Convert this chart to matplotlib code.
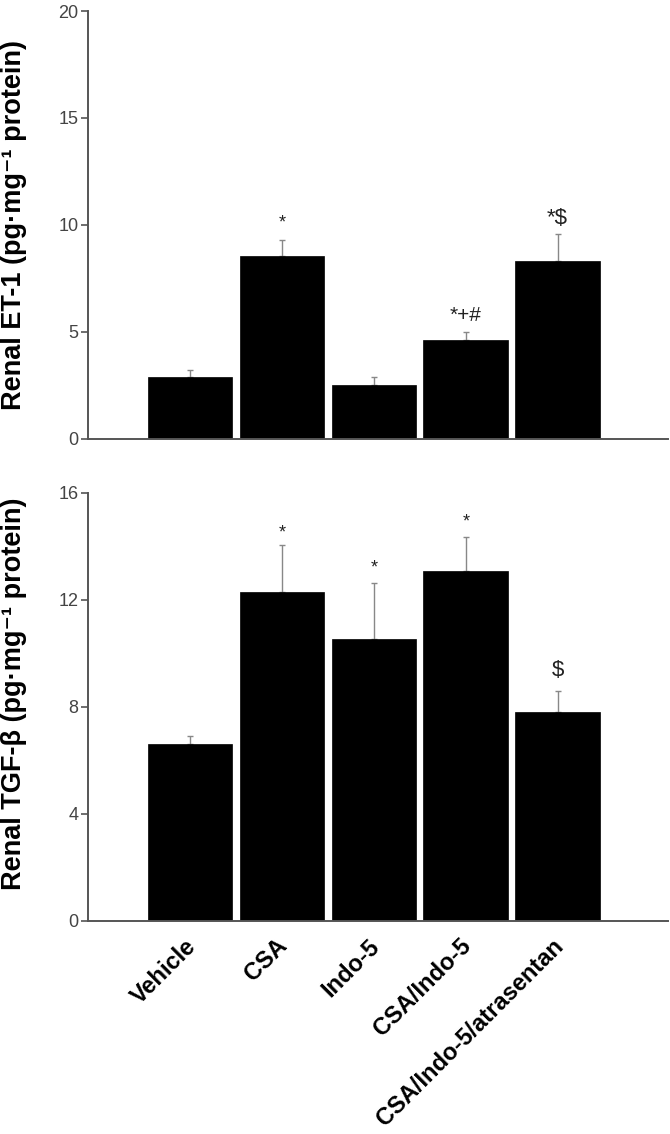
import matplotlib
matplotlib.use("Agg")
import matplotlib.pyplot as plt
import matplotlib.transforms as mtransforms
import numpy as np

groups = ["Vehicle", "CSA", "Indo-5", "CSA/Indo-5", "CSA/Indo-5/atrasentan"]
et1_mean = [2.88, 8.54, 2.52, 4.63, 8.31]
et1_err = [0.31, 0.76, 0.36, 0.33, 1.25]
et1_marks = ["", "*", "", "*+#", "*$"]
et1_mark_y = [0, 10.1, 0, 5.75, 10.3]

tgf_mean = [6.60, 12.29, 10.54, 13.07, 7.80]
tgf_err = [0.32, 1.77, 2.08, 1.29, 0.80]
tgf_marks = ["", "*", "*", "*", "$"]
tgf_mark_y = [0, 14.5, 13.2, 14.9, 9.37]

FAM = ["Liberation Sans", "DejaVu Sans"]
plt.rcParams['font.family'] = FAM

W, H = 670, 1134
fig = plt.figure(figsize=(W / 100, H / 100), dpi=100)

left = 88 / W
width = (668 - 88) / W
ax1 = fig.add_axes([left, 1 - 438.5 / H, width, (438.5 - 11) / H])
ax2 = fig.add_axes([left, 1 - 920.7 / H, width, (920.7 - 492.7) / H])

x = np.arange(len(groups))
spine_c = "#555555"
tick_c = "#444444"

def style(ax, ymax, yticks, ylabel, ycenter):
    ax.set_xlim(-1.11, 5.2)
    ax.set_ylim(0, ymax)
    ax.set_yticks(yticks)
    for s in ["top", "right"]:
        ax.spines[s].set_visible(False)
    for s in ["left", "bottom"]:
        ax.spines[s].set_color(spine_c)
        ax.spines[s].set_linewidth(1.4)
    ax.tick_params(axis="y", direction="out", length=5, width=1.2, color=spine_c,
                   labelsize=13, labelcolor=tick_c, pad=2)
    ax.set_ylabel(ylabel, fontsize=19.5, fontweight="bold", family=FAM)
    ax.yaxis.set_label_coords(-0.105, ycenter)

def draw(ax, mean, err, marks, mark_y, sizes):
    ax.bar(x, mean, width=0.92, color="black", edgecolor="black", linewidth=0.5, zorder=2)
    ax.errorbar(x, mean, yerr=[np.zeros(len(err)), err], fmt="none", ecolor="#888888",
                elinewidth=1.0, capsize=2.5, capthick=1.0, zorder=1)
    for xi, m, my, sz in zip(x, marks, mark_y, sizes):
        if m:
            ax.text(xi, my, m, ha="center", va="center", fontsize=sz, color="#222222")

draw(ax1, et1_mean, et1_err, et1_marks, et1_mark_y, [13, 13, 13, 15, 16])
style(ax1, 20, [0, 5, 10, 15, 20], "Renal ET-1 (pg\u00b7mg\u207b\u00b9 protein)", 0.5)
ax1.set_xticks([])

draw(ax2, tgf_mean, tgf_err, tgf_marks, tgf_mark_y, [13, 13, 13, 13, 16])
style(ax2, 16, [0, 4, 8, 12, 16], "Renal TGF-\u03b2 (pg\u00b7mg\u207b\u00b9 protein)", 0.53)
ax2.set_xticks(x)
ax2.set_xticklabels(groups, rotation=45, ha="right", va="top", rotation_mode="anchor",
                    fontsize=17, fontweight="bold")
ax2.tick_params(axis="x", length=0, pad=10)
offset = mtransforms.ScaledTranslation(-6 / 100, 0, fig.dpi_scale_trans)
for lbl in ax2.get_xticklabels():
    lbl.set_transform(lbl.get_transform() + offset)

fig.savefig("out.png", dpi=100)
